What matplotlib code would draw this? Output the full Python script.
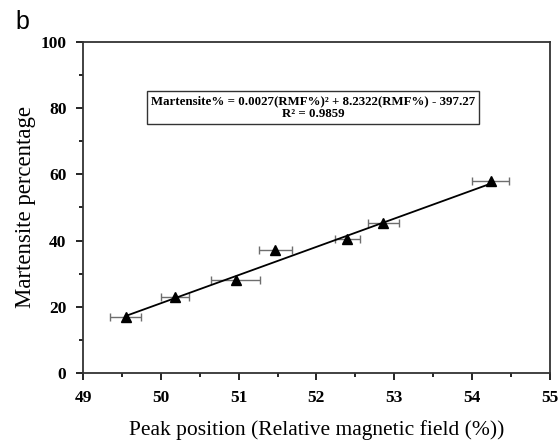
import numpy as np
import matplotlib.pyplot as plt
from matplotlib.ticker import MultipleLocator

# data
peak_pos = [49.55, 50.18, 50.96, 51.47, 52.40, 52.86, 54.24]
martensite = [17.0, 23.0, 28.1, 37.2, 40.4, 45.2, 58.0]
peak_err = [0.20, 0.18, 0.31, 0.21, 0.16, 0.20, 0.24]
fit_coef = [0.0027, 8.2322, -397.27]

plt.rcParams['font.family'] = ['Liberation Serif', 'DejaVu Serif']

fig = plt.figure(figsize=(5.58, 4.41), dpi=100)
ax = fig.add_axes([0.149, 0.154, 0.836, 0.751])

# fitted curve over the data range
xf = np.linspace(min(peak_pos), max(peak_pos), 100)
ax.plot(xf, np.polyval(fit_coef, xf), color='black', lw=1.3, zorder=2)

ax.errorbar(peak_pos, martensite, xerr=peak_err, fmt='none', ecolor='#6e6e6e',
            elinewidth=1, capsize=3, capthick=1, zorder=1)
ax.plot(peak_pos, martensite, '^', color='black', ms=7, zorder=3)

ax.set_xlim(49, 55)
ax.set_ylim(0, 100)
ax.xaxis.set_major_locator(MultipleLocator(1))
ax.xaxis.set_minor_locator(MultipleLocator(0.5))
ax.yaxis.set_major_locator(MultipleLocator(20))
ax.yaxis.set_minor_locator(MultipleLocator(10))
ax.tick_params(which='major', direction='out', length=5, width=1.2, labelsize=12.5, pad=7)
ax.tick_params(which='minor', direction='out', length=3, width=1.2)
for lab in ax.get_xticklabels() + ax.get_yticklabels():
    lab.set_fontweight('bold')
for s in ax.spines.values():
    s.set_linewidth(1.3)
    s.set_color('#333333')

ax.set_xlabel('Peak position (Relative magnetic field (%))', fontsize=15.5, labelpad=10)
ax.set_ylabel('Martensite percentage', fontsize=16.4, labelpad=3)

ax.text(51.96, 80.2, 'Martensite% = 0.0027(RMF%)² + 8.2322(RMF%) - 397.27\nR² = 0.9859',
        ha='center', va='center', fontsize=9.3, fontweight='bold', linespacing=1.15,
        bbox=dict(boxstyle='square,pad=0.3', fc='white', ec='#333333', lw=1))

fig.text(0.028, 0.935, 'b', fontsize=18, family='Liberation Sans')

fig.savefig('out.png', dpi=100)
